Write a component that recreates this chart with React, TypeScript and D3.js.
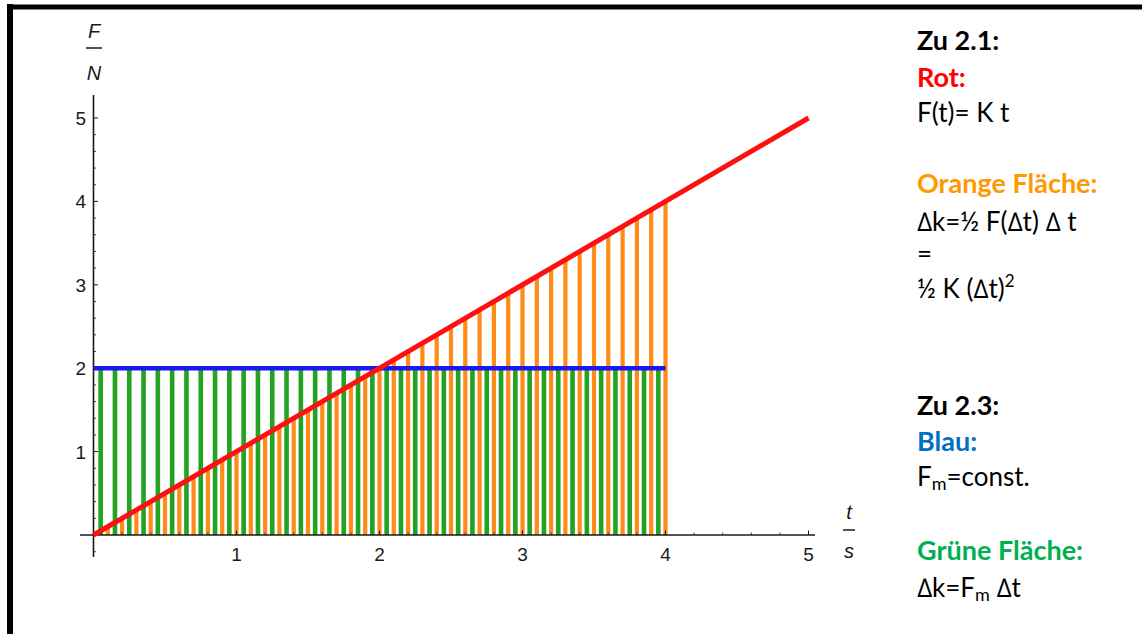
import React, { useEffect } from 'react';
import * as d3 from 'd3';

// Lines of the chart (t in s, F in N)
const redLine = [{ t: 0, F: 0 }, { t: 5, F: 5 }];
const blueLine = [{ t: 0, F: 2 }, { t: 4, F: 2 }];
const fillEnd = 4;
const xTicks = [1, 2, 3, 4, 5];
const yTicks = [1, 2, 3, 4, 5];

const W = 1142;
const H = 634;

const App = () => {
    useEffect(() => {
        document.body.style.margin = '0';
    }, []);

    const x = d3.scaleLinear().domain([0, 5]).range([93.5, 808.5]);
    const y = d3.scaleLinear().domain([0, 5]).range([535, 118]);

    // F value along red line
    const redF = d3.scaleLinear().domain(redLine.map(d => d.t)).range(redLine.map(d => d.F));

    // hatching positions (fill pattern, step 0.1 s)
    const orangeHatch = d3.range(1, fillEnd * 10 + 1).map(i => i / 10);
    const greenHatch = d3.range(0, fillEnd * 10).map(i => i / 10 + 0.05);

    const minorX = d3.range(0, 26).map(i => i / 5).filter(v => !xTicks.includes(v) && v !== 0);
    const minorY = d3.range(-1, 26).map(i => i / 5).filter(v => !yTicks.includes(v) && v !== 0);

    const line = d3.line<{ t: number; F: number }>()
        .x(d => x(d.t))
        .y(d => y(d.F));

    const axisColor = '#1a1a1a';
    const labelFont = '"Liberation Sans", Arial, sans-serif';
    const textFont = 'Lato, "Open Sans", sans-serif';
    const tx = 917;

    return (
        <svg width={W} height={H} style={{ display: 'block', background: '#fff' }}>
            {/* frame */}
            <line x1={10} x2={10} y1={4} y2={H} stroke="#000" strokeWidth={6} />
            <line x1={7} x2={W} y1={7} y2={7} stroke="#000" strokeWidth={5} />

            {/* green hatching under blue */}
            {greenHatch.map(t => (
                <rect key={'g' + t} x={x(t) - 2.3} width={4.6} y={y(blueLine[0].F)} height={y(0) - y(blueLine[0].F)} fill="#22a322" />
            ))}
            {/* orange hatching under red */}
            {orangeHatch.map(t => (
                <rect key={'o' + t} x={x(t) - 2.1} width={4.2} y={y(redF(t))} height={y(0) - y(redF(t))} fill="#ff8c1a" />
            ))}

            {/* axes */}
            <line x1={x(0)} x2={x(0)} y1={95} y2={557} stroke={axisColor} strokeWidth={1.6} />
            <line x1={80} x2={815} y1={y(0)} y2={y(0)} stroke={axisColor} strokeWidth={1.6} />
            {yTicks.map(v => (
                <g key={'y' + v}>
                    <line x1={x(0)} x2={x(0) + 4.5} y1={y(v)} y2={y(v)} stroke={axisColor} strokeWidth={1} />
                    <text x={86} y={y(v) + 7} textAnchor="end" fontFamily={labelFont} fontSize={19} fill="#1a1a1a">{v}</text>
                </g>
            ))}
            {minorY.map(v => (
                <line key={'my' + v} x1={x(0)} x2={x(0) + 2.5} y1={y(v)} y2={y(v)} stroke={axisColor} strokeWidth={0.8} />
            ))}
            {xTicks.map(v => (
                <g key={'x' + v}>
                    <line x1={x(v)} x2={x(v)} y1={y(0)} y2={y(0) - 4.5} stroke={axisColor} strokeWidth={1} />
                    <text x={x(v)} y={561} textAnchor="middle" fontFamily={labelFont} fontSize={19} fill="#1a1a1a">{v}</text>
                </g>
            ))}
            {minorX.map(v => (
                <line key={'mx' + v} x1={x(v)} x2={x(v)} y1={y(0)} y2={y(0) - 2.5} stroke={axisColor} strokeWidth={0.8} />
            ))}

            {/* axis labels */}
            <g fontFamily={labelFont} fontSize={20} fontStyle="italic" fill="#1a1a1a" textAnchor="middle">
                <text x={94} y={38}>F</text>
                <line x1={86} x2={102} y1={48} y2={48} stroke="#1a1a1a" strokeWidth={1.5} />
                <text x={94} y={80}>N</text>
                <text x={849} y={519}>t</text>
                <line x1={843} x2={855} y1={530} y2={530} stroke="#1a1a1a" strokeWidth={1.5} />
                <text x={849} y={558}>s</text>
            </g>

            {/* lines */}
            <path d={line(blueLine) || ''} fill="none" stroke="#1a1aee" strokeWidth={4.5} />
            <path d={line(redLine) || ''} fill="none" stroke="#ff1010" strokeWidth={5} />

            {/* explanation */}
            <g fontFamily={textFont} fontSize={26} fill="#000">
                <g fontWeight="bold" fontSize={27}>
                    <text x={tx} y={50}>Zu 2.1:</text>
                    <text x={tx} y={87} fill="#ff0000">Rot:</text>
                    <text x={tx} y={193} fill="#ff9900">Orange Fläche:</text>
                    <text x={tx} y={415}>Zu 2.3:</text>
                    <text x={tx} y={451} fill="#0070c0">Blau:</text>
                    <text x={tx} y={560} fill="#00b050">Grüne Fläche:</text>
                </g>
                <text x={tx} y={122}>F(t)= K t</text>
                <text x={tx} y={231}>∆k=½ F(∆t) ∆ t</text>
                <text x={tx} y={263}>=</text>
                <text x={tx} y={298}>½ K (∆t)<tspan fontSize={17} dy={-11}>2</tspan></text>
                <text x={tx} y={486}>F<tspan fontSize={18} dy={4}>m</tspan><tspan dy={-4}>=const.</tspan></text>
                <text x={tx} y={597}>∆k=F<tspan fontSize={18} dy={4}>m</tspan><tspan dy={-4}> ∆t</tspan></text>
            </g>
        </svg>
    );
};

export default App;
